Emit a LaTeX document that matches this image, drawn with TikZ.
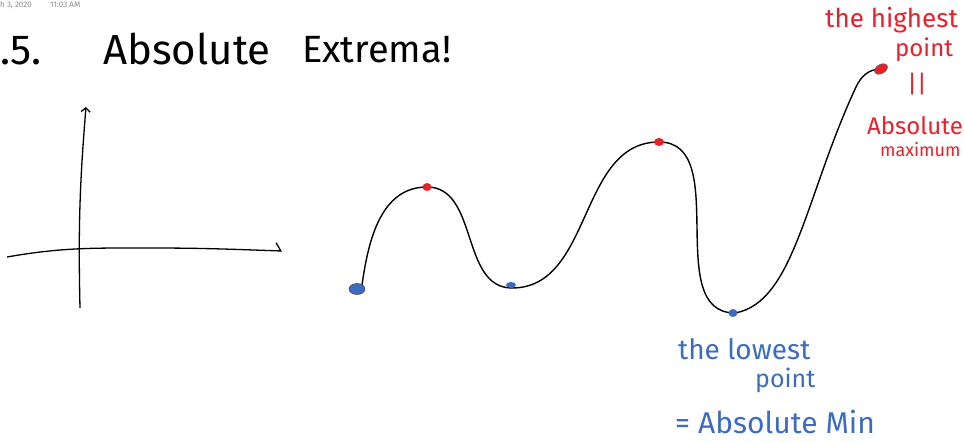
\documentclass[tikz,border=0pt]{standalone}
\usepackage{fontspec}
\setmainfont{Fira Sans}
\usepackage{tikz}
\usetikzlibrary{arrows.meta}
\definecolor{inkred}{HTML}{E8202A}
\definecolor{inkblue}{HTML}{3B6CC2}
\definecolor{stamp}{HTML}{8C8C8C}
\newcommand{\TitleFont}{\fontsize{42}{44}\selectfont}
\newcommand{\RedFont}{\fontsize{24}{26}\selectfont}
\newcommand{\BlueFont}{\fontsize{28}{30}\selectfont}
\newcommand{\StampFont}{\fontsize{8}{9}\selectfont}

\begin{document}
\begin{tikzpicture}[x=1pt,y=1pt,
    curve/.style={black,line width=1.4pt},
    axis/.style={black,line width=1.3pt},
    hand/.style={anchor=base west,inner sep=0pt}]
  \useasboundingbox (0,0) rectangle (964,442);
  % date stamp and title
  \node[stamp,font=\StampFont,anchor=west,inner sep=0pt] (date) at (0,437) {h 3, 2020};
  \node[stamp,font=\StampFont,anchor=west,inner sep=0pt] (time) at (50,437) {11:03 AM};
  \node[hand,font=\TitleFont] (num) at (0,377) {.5.};
  \node[hand,font=\TitleFont] (abs) at (103,377) {Absolute};
  \node[hand,font=\fontsize{38}{40}\selectfont] (ext) at (302,379) {Extrema!};
  % axes
  \coordinate (yb) at (80,134);
  \coordinate (yt) at (86,335);
  \coordinate (xl) at (7,185);
  \coordinate (xm) at (150,194);
  \coordinate (xr) at (282,191);
  \draw[axis,-{Straight Barb[length=4pt,width=9pt]}] (yb) to[bend left=3] (yt);
  \draw[axis,-{Straight Barb[length=5pt,width=16pt,harpoon]}] (xl) to[out=10,in=180] (xm) to[out=0,in=178] (xr);
  % the curve
  \coordinate (start) at (362,157);
  \coordinate (max1) at (427,255);
  \coordinate (min1) at (512,154);
  \coordinate (max2) at (659,300);
  \coordinate (min2) at (735,129);
  \coordinate (knee) at (856,355);
  \coordinate (top) at (881,373);
  \draw[curve] (start) to[out=82,in=180] (max1) to[out=0,in=180] (min1)
    to[out=0,in=180] (max2) to[out=0,in=180] (min2)
    to[out=10,in=245,out looseness=.6,in looseness=1.2] (knee)
    to[out=65,in=180] (top);
  \foreach \x/\y/\c/\a/\b in {427/255/inkred/4.5/4,659/300/inkred/5/4,511/157/inkblue/5/3,733/129/inkblue/4.5/4}
    \fill[\c] (\x,\y) ellipse [x radius=\a, y radius=\b];
  \filldraw[fill=inkblue,draw=black!70,line width=.6pt] ([xshift=-5pt,yshift=-4pt]start) ellipse [x radius=8, y radius=5.5];
  \filldraw[fill=inkred,draw=black!60,line width=.6pt,rotate around={30:(top)}] (top) ellipse [x radius=7, y radius=4.5];
  % labels
  \node[hand,inkred,font=\fontsize{26}{28}\selectfont] (high) at (825,414) {the highest};
  \node[hand,inkred,font=\RedFont] (hpt) at (895,385) {point};
  \node[inkred,font=\RedFont,inner sep=0pt] (hbar) at (917,358) {||};
  \node[hand,inkred,font=\RedFont] (habs) at (867,307) {Absolute};
  \node[hand,inkred,font=\fontsize{18}{20}\selectfont] (hmax) at (880,285) {maximum};
  \node[hand,inkblue,font=\BlueFont] (low) at (678,82) {the lowest};
  \node[hand,inkblue,font=\fontsize{25}{27}\selectfont] (lpt) at (755,54) {point};
  \node[hand,inkblue,font=\fontsize{30}{32}\selectfont] (lmin) at (675,9) {= Absolute Min};
\end{tikzpicture}
\end{document}
